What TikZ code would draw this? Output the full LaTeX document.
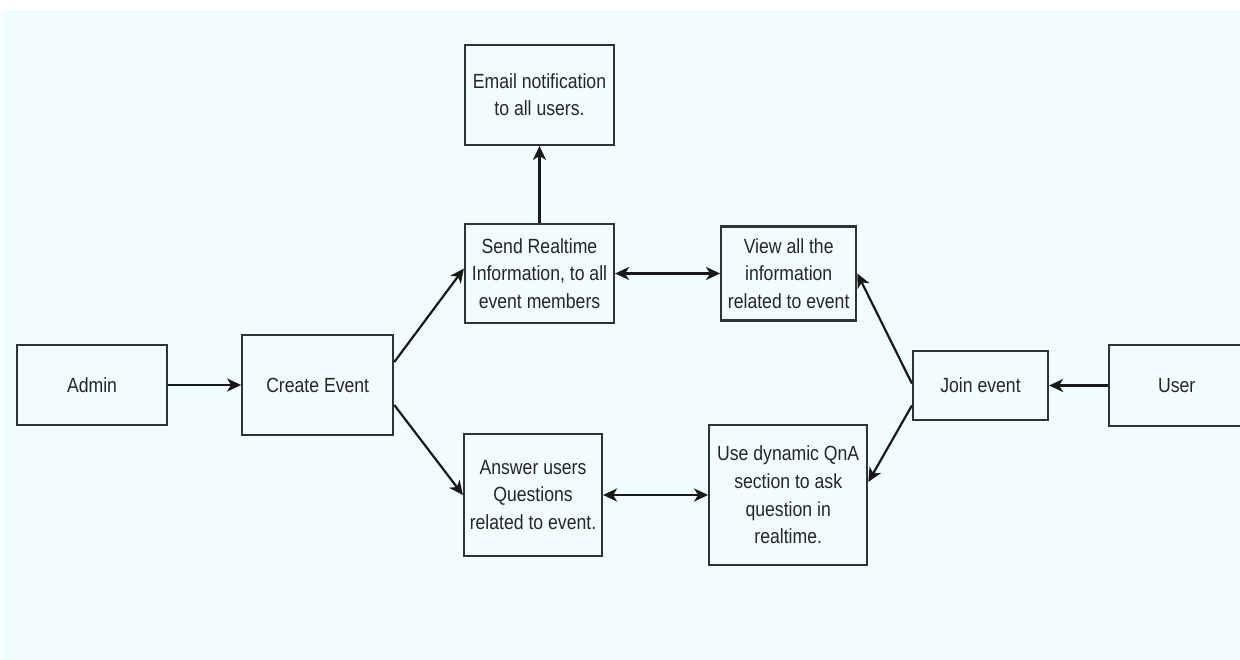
\documentclass[tikz,border=0pt]{standalone}
\usepackage{fontspec}
\setmainfont{Liberation Sans}[FakeStretch=0.86]
\usetikzlibrary{positioning,arrows.meta}
\definecolor{bgcyan}{HTML}{F0FCFD}
\definecolor{linegray}{HTML}{2E3436}
\tikzset{box/.style={rectangle,draw=linegray,line width=2.2pt,fill=bgcyan,text=black!85,align=center,inner sep=0pt,font=\fontsize{20.5}{27.7}\selectfont},
  tip/.tip={Stealth[length=14pt,width=13pt,inset=4pt]},
  flow/.style={draw=black!90,line width=2.2pt,-tip},
  twoway/.style={draw=black!90,line width=2.2pt,tip-tip}}

\begin{document}
\begin{tikzpicture}[x=1pt,y=-1pt]
            \useasboundingbox (0,0) rectangle (1240,660);
            \fill[white] (0,0) rectangle (1240,660);
            \fill[bgcyan] (3,10) rectangle (1240,660);

            \node[box,minimum width=150pt,minimum height=80pt] (admin) at (92,385) {Admin};
            \node[box,minimum width=151pt,minimum height=100pt] (create) [right = 73pt of admin] {Create Event};
            \node[box,minimum width=149pt,minimum height=99pt] (send) at (539.5,273.5) {Send Realtime\\Information, to all\\event members};
            \node[box,minimum width=149pt,minimum height=100pt] (email) [above = 77pt of send] {Email notification\\to all users.};
            \node[box,minimum width=135pt,minimum height=94pt] (view) [right = 105pt of send] {View all the\\information\\related to event};
            \node[box,minimum width=138pt,minimum height=122pt] (answer) at (533,495) {Answer users\\Questions\\related to event.};
            \node[box,minimum width=158pt,minimum height=140pt] (qna) [right = 105pt of answer] {Use dynamic QnA\\section to ask\\question in\\realtime.};
            \node[box,minimum width=135pt,minimum height=69pt] (join) at (980.5,385.5) {Join event};
            \node[box,minimum width=135pt,minimum height=81pt] (user) [right = 59pt of join] {User};

            \path[flow] (admin) -- (create);
            \path[flow] ([yshift=23pt]create.east) -- ([yshift=5pt]send.west);
            \path[flow] ([yshift=-20pt]create.east) -- (answer.west);
            \path[flow] (send) -- (email);
            \path[twoway] (send) -- (view);
            \path[twoway] (answer) -- (qna);
            \path[flow] (user) -- (join);
            \path[flow] ([yshift=2pt]join.west) -- (view.east);
            \path[flow] ([yshift=-20pt]join.west) -- ([yshift=13pt]qna.east);
        \end{tikzpicture}
\end{document}
